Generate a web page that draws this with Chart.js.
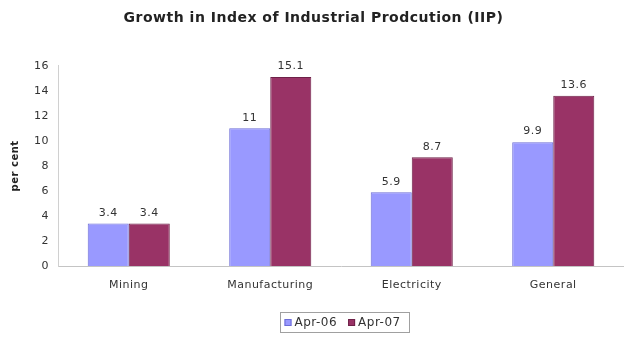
<!DOCTYPE html>
<html>
<head>
<meta charset="utf-8">
<script src="https://cdn.jsdelivr.net/npm/chart.js@4/dist/chart.umd.min.js"></script>
<style>
  html, body { margin: 0; padding: 0; background: #fff; }
  #wrap { width: 624px; height: 339px; position: relative; }
</style>
</head>
<body>
<div id="wrap"><canvas id="c" width="624" height="339"></canvas></div>
<script>
// Sectors and growth rates (per cent)
const categories = ['Mining', 'Manufacturing', 'Electricity', 'General'];
const seriesNames = ['Apr-06', 'Apr-07'];
const apr06 = [3.4, 11, 5.9, 9.9];
const apr07 = [3.4, 15.1, 8.7, 13.6];
const yTicks = [0, 2, 4, 6, 8, 10, 12, 14, 16];

const FONT = '"DejaVu Sans", Verdana, sans-serif';
const TEXT = '#333333';
const SPACING = '0.5px';

// Slightly open lettering for all canvas text
const letterSpacing = {
  id: 'letterSpacing',
  beforeInit(chart) { chart.ctx.letterSpacing = SPACING; },
  beforeUpdate(chart) { chart.ctx.letterSpacing = SPACING; },
  beforeDraw(chart) { chart.ctx.letterSpacing = SPACING; }
};

// Value labels above every bar
const valueLabels = {
  id: 'valueLabels',
  afterDatasetsDraw(chart) {
    const ctx = chart.ctx;
    ctx.save();
    ctx.letterSpacing = SPACING;
    ctx.font = '11px ' + FONT;
    ctx.fillStyle = TEXT;
    ctx.textAlign = 'center';
    ctx.textBaseline = 'bottom';
    chart.data.datasets.forEach((ds, di) => {
      chart.getDatasetMeta(di).data.forEach((bar, i) => {
        ctx.fillText(String(ds.data[i]), bar.x, bar.y - 5);
      });
    });
    ctx.restore();
  }
};

// Boxed legend under the plot
const boxedLegend = {
  id: 'boxedLegend',
  afterDraw(chart) {
    const ctx = chart.ctx;
    ctx.save();
    ctx.letterSpacing = SPACING;
    ctx.font = '12px ' + FONT;
    ctx.textBaseline = 'middle';
    const sq = 7, gapBox = 3, gapItem = 11, padL = 4, padR = 9;
    const items = chart.data.datasets.map(ds => ({
      text: ds.label, color: ds.backgroundColor, border: ds.borderColor,
      w: sq + gapBox + ctx.measureText(ds.label).width
    }));
    const inner = items.reduce((s, it) => s + it.w, 0) + gapItem * (items.length - 1);
    const boxW = Math.round(inner + padL + padR);
    const boxH = 20;
    const cx = 344.5;
    const left = Math.round(cx - boxW / 2) + 0.5;
    const top = 312.5;
    ctx.strokeStyle = '#a0a0a0';
    ctx.lineWidth = 1;
    ctx.strokeRect(left, top, boxW, boxH);
    let x = left + padL;
    const yMid = top + boxH / 2;
    items.forEach(it => {
      ctx.fillStyle = it.color;
      ctx.fillRect(x, yMid - sq / 2, sq, sq);
      ctx.strokeStyle = it.border;
      ctx.strokeRect(x + 0.5, yMid - sq / 2 + 0.5, sq - 1, sq - 1);
      ctx.fillStyle = TEXT;
      ctx.fillText(it.text, x + sq + gapBox, yMid + 0.5);
      x += it.w + gapItem;
    });
    ctx.restore();
  }
};

new Chart(document.getElementById('c'), {
  type: 'bar',
  data: {
    labels: categories,
    datasets: [
      {
        label: seriesNames[0],
        data: apr06,
        backgroundColor: '#9999FF',
        borderColor: '#6d6dd6',
        borderWidth: 1
      },
      {
        label: seriesNames[1],
        data: apr07,
        backgroundColor: '#993366',
        borderColor: '#6e2148',
        borderWidth: 1
      }
    ]
  },
  options: {
    responsive: false,
    animation: false,
    devicePixelRatio: 1,
    layout: { padding: { left: 0, right: -3, top: 0, bottom: 0 } },
    datasets: {
      bar: { categoryPercentage: 0.58, barPercentage: 1.0 }
    },
    plugins: {
      legend: { display: false },
      tooltip: { enabled: false },
      title: {
        display: true,
        text: 'Growth in Index of Industrial Prodcution (IIP)',
        color: '#222222',
        font: { family: FONT, size: 14, weight: 'bold' },
        padding: { top: 10, bottom: 39 }
      }
    },
    scales: {
      x: {
        grid: { display: false, drawTicks: false },
        border: { display: true, color: '#c4c4c4', width: 1 },
        ticks: {
          color: TEXT,
          font: { family: FONT, size: 11 },
          padding: 13,
          maxRotation: 0
        },
        afterFit(scale) { scale.height = 73; }
      },
      y: {
        min: 0,
        max: 16,
        afterBuildTicks(scale) { scale.ticks = yTicks.map(v => ({ value: v })); },
        grid: { display: false, drawTicks: false },
        border: { display: true, color: '#d0d0d0', width: 1 },
        ticks: {
          color: TEXT,
          font: { family: FONT, size: 11 },
          padding: 9
        },
        title: {
          display: true,
          text: 'per cent',
          color: '#222222',
          font: { family: FONT, size: 10, weight: 'bold' },
          padding: { top: 9, bottom: 0 }
        },
        afterFit(scale) { scale.width = 58; }
      }
    }
  },
  plugins: [letterSpacing, valueLabels, boxedLegend]
});
</script>
</body>
</html>
